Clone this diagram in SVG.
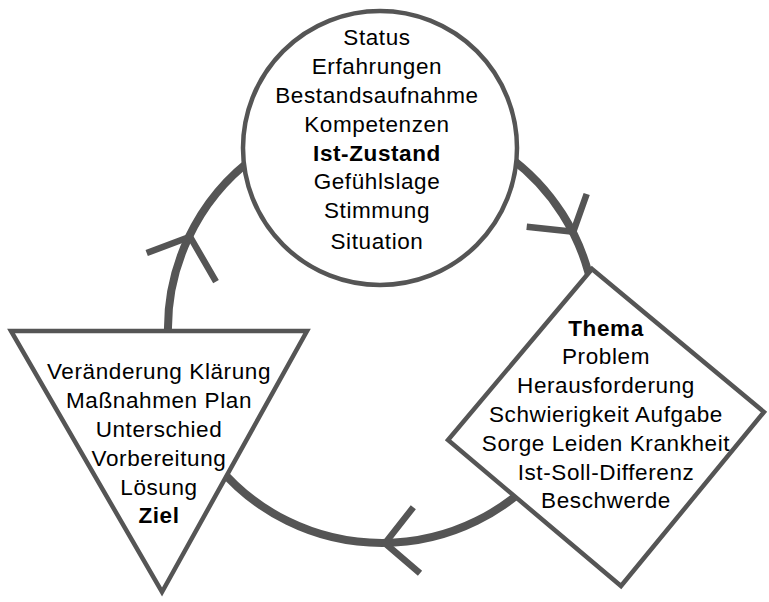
<svg xmlns="http://www.w3.org/2000/svg" width="769" height="602" viewBox="0 0 769 602">
<style>
.ring{fill:none;stroke:#555555;stroke-width:8}
.head{fill:none;stroke:#555555;stroke-width:6.5;stroke-linejoin:miter}
.node{fill:#ffffff;stroke:#555555;stroke-width:4.5}
text{font-family:"Liberation Sans",Arial,sans-serif;font-size:22.5px;letter-spacing:0.6px;text-anchor:middle;fill:#000000}
.b{font-weight:bold}
</style>
<rect width="769" height="602" fill="#ffffff"/>
<g id="connectors">
<path class="ring" d="M168.8,347.6 A214,214 0 0 1 259.3,153.7"/>
<path class="ring" d="M504.7,153.7 A214,214 0 0 1 592.7,291.8"/>
<path class="ring" d="M545.9,466.6 A214,214 0 0 1 218.1,466.6"/>
<polyline class="head" points="146.7,253 190,236.7 216,281.7"/>
<polyline class="head" points="586.7,194 573.3,231.7 526.7,226.7"/>
<polyline class="head" points="413.3,507.3 385,543.3 420,573.3"/>
</g>
<g id="ist">
<circle class="node" cx="380" cy="148" r="137"/>
<text x="377" y="45">Status</text>
<text x="377" y="74">Erfahrungen</text>
<text x="377" y="103">Bestandsaufnahme</text>
<text x="377" y="132">Kompetenzen</text>
<text x="377" y="161" class="b">Ist-Zustand</text>
<text x="377" y="189">Gefühlslage</text>
<text x="377" y="218">Stimmung</text>
<text x="377" y="249">Situation</text>
</g>
<g id="thema">
<polygon class="node" points="592,269 764,412 621,586 448,440"/>
<text x="606" y="336" class="b">Thema</text>
<text x="606" y="364">Problem</text>
<text x="606" y="393">Herausforderung</text>
<text x="606" y="422">Schwierigkeit Aufgabe</text>
<text x="606" y="451">Sorge Leiden Krankheit</text>
<text x="606" y="480">Ist-Soll-Differenz</text>
<text x="606" y="508">Beschwerde</text>
</g>
<g id="ziel">
<polygon class="node" points="11,331 307,331 162,592"/>
<text x="159" y="379">Veränderung Klärung</text>
<text x="159" y="408">Maßnahmen Plan</text>
<text x="159" y="437">Unterschied</text>
<text x="159" y="466">Vorbereitung</text>
<text x="159" y="495">Lösung</text>
<text x="159" y="523" class="b">Ziel</text>
</g>
</svg>
